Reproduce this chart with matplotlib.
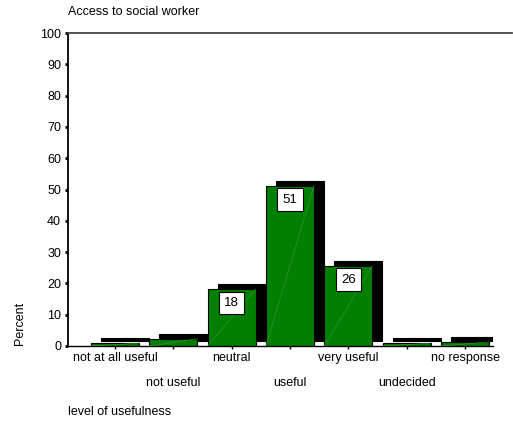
import matplotlib
matplotlib.use("Agg")
import matplotlib.pyplot as plt
from matplotlib.transforms import ScaledTranslation
from matplotlib.lines import Line2D

categories = ["not at all useful", "not useful", "neutral", "useful",
              "very useful", "undecided", "no response"]
percent = [0.9, 2.3, 18.2, 51.2, 25.6, 0.9, 1.3]
yticks = [0, 10, 20, 30, 40, 50, 60, 70, 80, 90, 100]

plt.rcParams['font.family'] = ['Liberation Sans', 'DejaVu Sans']

fig = plt.figure(figsize=(5.13, 4.28), dpi=100)
ax = fig.add_axes([68 / 513, 1 - 346 / 428, 425 / 513, 313 / 428])

x = list(range(len(categories)))
width = 0.823

# shadow bars shifted up and right
shift = ax.transData + ScaledTranslation(10 / 100, 5 / 100, fig.dpi_scale_trans)
ax.bar(x, percent, width=width, color='black', edgecolor='black',
       linewidth=0.8, transform=shift, zorder=1)
ax.bar(x, percent, width=width, color='#007f00', edgecolor='black',
       linewidth=0.8, zorder=2)

# faint diagonal on the face of each bar
for xi, v in zip(x, percent):
    ax.plot([xi - width / 2, xi + width / 2], [0, v], color='#3c8f3c',
            lw=0.5, zorder=3)

for xi, v in zip(x, percent):
    if v > 5:
        ax.annotate(f"{v:.0f}", (xi, v), xytext=(0, -10),
                    textcoords='offset points', ha='center', va='center',
                    fontsize=9.5, zorder=4,
                    bbox=dict(boxstyle='square,pad=0.4', fc='white',
                              ec='black', lw=0.8))

ax.set_xlim(-0.806, 6.48)
ax.set_ylim(0, 100)
ax.set_yticks(yticks)
ax.set_xticks(x)
ax.set_xticklabels(categories, fontsize=9)
for lab in ax.get_xticklabels()[1::2]:
    lab.set_y(-0.08)
ax.tick_params(axis='y', labelsize=9, length=2.5, width=2, pad=2.5)
ax.tick_params(axis='x', length=2, width=1, pad=2.5)

ax.spines['right'].set_visible(False)
ax.spines['top'].set_visible(False)
ax.spines['left'].set_linewidth(1.3)
ax.spines['bottom'].set_linewidth(1.0)

# long top rule
fig.add_artist(Line2D([68 / 513, 512 / 513], [1 - 33 / 428, 1 - 33 / 428],
                      color='#444444', lw=1.3))

fig.text(68 / 513, 1 - 12 / 428, "Access to social worker", fontsize=9,
         ha='left', va='center')
fig.text(20 / 513, 1 - 323 / 428, "Percent", fontsize=9, rotation=90,
         ha='center', va='center')
fig.text(68 / 513, 1 - 412 / 428, "level of usefulness", fontsize=9,
         ha='left', va='center')

fig.savefig("out.png", dpi=100)
